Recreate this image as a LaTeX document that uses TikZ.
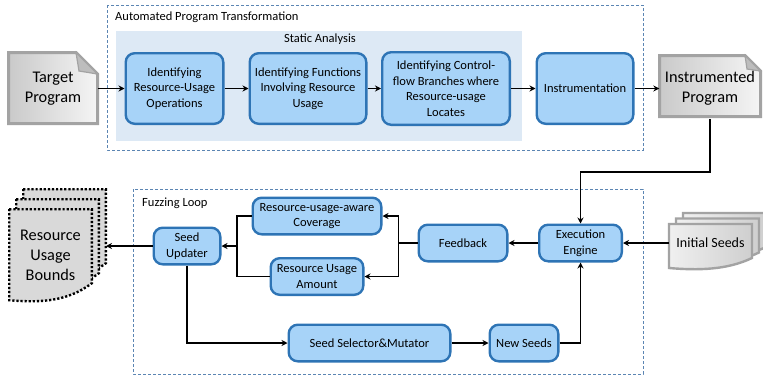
\documentclass[tikz,border=0pt]{standalone}
\usepackage{fontspec}
\setmainfont{Carlito}
\usetikzlibrary{arrows.meta,calc}

\definecolor{boxfill}{HTML}{A7D3F8}
\definecolor{boxline}{HTML}{2E74B5}
\definecolor{areafill}{HTML}{DDE9F5}
\definecolor{frameline}{HTML}{5B85B3}
\definecolor{docline}{HTML}{A3A3A3}
\definecolor{foldfill}{HTML}{BDBDBD}
\definecolor{boundfill}{HTML}{D9D9D9}

% document outline with a wavy lower edge: x, y, width, height, wave depth
\newcommand{\wavedoc}[5]{(#1,#2) -- (#1+#3,#2) -- (#1+#3,#2+#4-#5)
  .. controls (#1+0.7*#3,#2+#4+1) and (#1+0.35*#3,#2+#4+1.5) .. (#1,#2+#4-1) -- cycle}

\tikzset{
  stage/.style={draw=boxline, fill=boxfill, line width=2.4pt, rounded corners=9pt,
    align=center, inner sep=0pt, font=\fontsize{12.5}{15.5}\selectfont},
  flow/.style={line width=1.7pt, -{Stealth[length=6pt,width=6pt]}},
  link/.style={line width=1.7pt},
  frame/.style={draw=frameline, line width=0.9pt, dash pattern=on 3pt off 2pt},
  doctext/.style={font=\fontsize{16.3}{20}\selectfont, align=center, inner sep=0pt},
  heading/.style={font=\fontsize{12.5}{15}\selectfont, inner sep=0pt},
  paperdoc/.style={draw=docline, line width=3pt, left color=gray!42, right color=gray!8},
  seeddoc/.style={draw=docline, line width=2.4pt, left color=gray!12, right color=gray!38},
  bounddoc/.style={draw=black, fill=boundfill, line width=2.4pt, dash pattern=on 2.2pt off 1.9pt},
}

\begin{document}
\begin{tikzpicture}[x=1pt,y=-1pt]
\useasboundingbox (0,0) rectangle (763,378);

% ---------- frames ----------
\draw[frame] (107,5) rectangle (643,150);
\node[heading, anchor=west] at (115,17) {Automated Program Transformation};
\fill[areafill] (116,31) rectangle (522,141);
\node[heading] at (320,39) {Static Analysis};

\draw[frame] (133,189) rectangle (643,374);
\node[heading, anchor=west] at (142,203) {Fuzzing Loop};

% ---------- input / output documents ----------
\path[paperdoc] (8.5,52.5) -- (76,52.5) -- (97.5,74) -- (97.5,123.5) -- (8.5,123.5) -- cycle;
\draw[docline, fill=foldfill, line width=1.2pt] (76,52.5) -- (79,71) -- (97.5,74) -- cycle;
\node[doctext, minimum width=89pt, minimum height=71pt] (tp) at (53,88.5) {Target\\Program};

\path[paperdoc] (659.5,55.5) -- (745,55.5) -- (760.5,71) -- (760.5,116.5) -- (659.5,116.5) -- cycle;
\draw[docline, fill=foldfill, line width=1.2pt] (745,55.5) -- (747,69) -- (760.5,71) -- cycle;
\node[doctext, minimum width=101pt, minimum height=61pt] (ip) at (710,88.5) {Instrumented\\Program};

% stacked initial seeds
\path[seeddoc] \wavedoc{683}{213}{83}{45}{11};
\path[seeddoc] \wavedoc{676}{218.5}{83}{45}{11};
\path[seeddoc] \wavedoc{669}{224}{83}{45}{11};
\node[font=\fontsize{14}{17}\selectfont, inner sep=0pt, minimum width=83pt, minimum height=38pt] (is) at (710.5,243) {Initial Seeds};

% stacked resource usage bounds
\path[bounddoc] \wavedoc{23.2}{189.2}{82.6}{92}{18};
\path[bounddoc] \wavedoc{16.2}{199.2}{82.6}{92}{18};
\path[bounddoc] \wavedoc{9.2}{209.2}{82.6}{92}{18};
\node[doctext] at (50.5,255) {Resource\\Usage\\Bounds};
\node[inner sep=0pt, minimum width=96.6pt, minimum height=112pt] (rub) at (57.5,245) {};

% ---------- static analysis / transformation stages ----------
\node[stage, minimum width=97.6pt, minimum height=70.6pt] (b1) at (174.5,88.5)
  {Identifying\\Resource-Usage\\Operations};
\node[stage, minimum width=116.6pt, minimum height=70.6pt] (b2) at (308,88.5)
  {Identifying Functions\\Involving Resource\\Usage};
\node[stage, minimum width=127.6pt, minimum height=72.6pt] (b3) at (446,88.5)
  {Identifying Control-\\flow Branches where\\Resource-usage\\Locates};
\node[stage, minimum width=96.6pt, minimum height=70.6pt] (b4) at (585,88.5)
  {Instrumentation};

% ---------- fuzzing loop ----------
\node[stage, minimum width=82.6pt, minimum height=36.6pt] (ee) at (580.5,243) {Execution\\Engine};
\node[stage, minimum width=88.6pt, minimum height=36.6pt] (fb) at (463,243) {Feedback};
\node[stage, minimum width=128.6pt, minimum height=36.6pt] (cov) at (317,216) {Resource-usage-aware\\Coverage};
\node[stage, minimum width=92.6pt, minimum height=36.6pt] (amt) at (317,276.5) {Resource Usage\\Amount};
\node[stage, minimum width=66.6pt, minimum height=36.6pt] (su) at (187,246) {Seed\\Updater};
\node[stage, minimum width=161.6pt, minimum height=36.6pt] (sel) at (369.5,343) {Seed Selector\&Mutator};
\node[stage, minimum width=68.6pt, minimum height=36.6pt] (ns) at (524,343) {New Seeds};

% ---------- connectors ----------
\draw[flow] (tp.east) -- (b1.west);
\draw[flow] (b1) -- (b2);
\draw[flow] (b2) -- (b3);
\draw[flow] (b3) -- (b4);
\draw[flow] (b4.east) -- (ip.west);
\draw[flow] (ip.south) -- ++(0,53) -| (ee.north);

\draw[flow] (is.west) -- (ee.east);
\draw[flow] (ee) -- (fb);
\draw[link] (fb.west) -- ++(-19,0) coordinate (fbj);
\draw[flow] (fbj) |- (cov.east);
\draw[flow] (fbj) |- (amt.east);

\coordinate (lj) at (237,246);
\draw[link] (cov.west) -| (lj) |- (amt.west);
\draw[flow] (lj) -- (su.east);
\draw[flow] (su.west) -- (su.west -| rub.east);

\draw[flow] (su.south) |- (sel.west);
\draw[flow] (sel) -- (ns);
\draw[flow] (ns.east) -| (ee.south);
\end{tikzpicture}
\end{document}
